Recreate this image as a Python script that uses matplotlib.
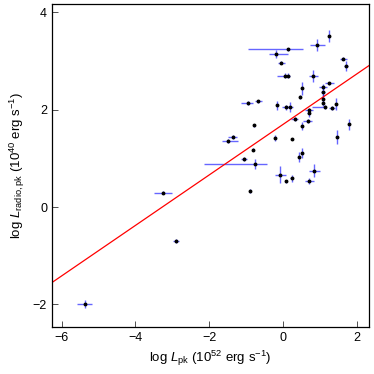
import matplotlib.pyplot as plt
import numpy as np

plt.rcParams["font.family"] = ["Liberation Sans", "DejaVu Sans"]
plt.rcParams["mathtext.fontset"] = "custom"
plt.rcParams["mathtext.rm"] = "Liberation Sans"
plt.rcParams["mathtext.it"] = "Liberation Sans:italic"

# log L_pk, log L_radio,pk and their error bars
log_lpk = [1.25, 0.93, 0.13, -0.18, -0.05, 0.04, 0.13, 0.82, 1.63, 1.71,
           0.51, 0.45, 1.25, 1.08, 1.08, 1.07, 1.07, 1.14, 1.32, 1.44,
           0.08, 0.18, 0.70, 0.69, -0.16, -0.94, -0.67, 0.31, 0.67, 0.52,
           -0.79, 1.79, -0.21, 0.24, 1.46, -1.37, -1.48, -0.81, 0.50, 0.44,
           -1.06, -0.75, -0.08, 0.07, 0.23, 0.85, 0.71, -0.89, -3.25, -2.91,
           -5.37]
log_lradio = [3.51, 3.33, 3.24, 3.14, 2.97, 2.70, 2.70, 2.70, 3.05, 2.90,
              2.44, 2.26, 2.54, 2.47, 2.37, 2.22, 2.13, 2.06, 2.04, 2.12,
              2.05, 2.05, 1.99, 1.94, 2.09, 2.13, 2.17, 1.81, 1.77, 1.67,
              1.68, 1.70, 1.42, 1.40, 1.44, 1.44, 1.36, 1.18, 1.11, 1.03,
              0.98, 0.89, 0.67, 0.53, 0.59, 0.75, 0.53, 0.33, 0.30, -0.70,
              -1.99]
xerr_lo = [0.03, 0.20, 1.08, 0.20, 0.10, 0.21, 0.05, 0.12, 0.10, 0.05,
           0.03, 0.02, 0.12, 0.10, 0.05, 0.02, 0.02, 0.35, 0.08, 0.02,
           0.10, 0.10, 0.12, 0.03, 0.02, 0.20, 0.10, 0.10, 0.12, 0.02,
           0.02, 0.02, 0.02, 0.02, 0.02, 0.12, 0.18, 0.02, 0.02, 0.02,
           0.08, 1.39, 0.15, 0.02, 0.03, 0.15, 0.12, 0.02, 0.25, 0.08,
           0.20]
xerr_hi = [0.03, 0.20, 0.42, 0.31, 0.10, 0.10, 0.05, 0.12, 0.10, 0.05,
           0.03, 0.02, 0.12, 0.10, 0.05, 0.02, 0.02, 0.03, 0.08, 0.02,
           0.10, 0.10, 0.12, 0.03, 0.02, 0.13, 0.10, 0.10, 0.12, 0.02,
           0.02, 0.02, 0.02, 0.02, 0.02, 0.12, 0.27, 0.02, 0.02, 0.02,
           0.08, 0.31, 0.15, 0.02, 0.03, 0.15, 0.12, 0.02, 0.25, 0.08,
           0.20]
yerr = [0.12, 0.13, 0.03, 0.08, 0.04, 0.05, 0.05, 0.12, 0.03, 0.10,
        0.14, 0.04, 0.03, 0.06, 0.08, 0.10, 0.05, 0.04, 0.04, 0.12,
        0.05, 0.10, 0.05, 0.08, 0.10, 0.04, 0.04, 0.04, 0.04, 0.08,
        0.03, 0.12, 0.07, 0.03, 0.15, 0.04, 0.04, 0.03, 0.10, 0.10,
        0.04, 0.10, 0.18, 0.03, 0.07, 0.13, 0.06, 0.05, 0.04, 0.04,
        0.08]

fit_slope = 0.519
fit_intercept = 1.70

fig = plt.figure(figsize=(3.74, 3.74), dpi=100)
ax = fig.add_axes([0.139, 0.126, 0.848, 0.863])

ax.errorbar(log_lpk, log_lradio, xerr=[xerr_lo, xerr_hi], yerr=yerr,
            fmt="none", ecolor="blue", elinewidth=1.0, alpha=0.6, capsize=0)
ax.plot(log_lpk, log_lradio, "o", color="black", markersize=1.8, zorder=3)

xlim = (-6.26, 2.33)
xfit = np.array(xlim)
ax.plot(xfit, fit_slope * xfit + fit_intercept, color="red", linewidth=0.9)

ax.set_xlim(*xlim)
ax.set_ylim(-2.46, 4.17)
ax.set_xticks([-6, -4, -2, 0, 2])
ax.set_yticks([-2, 0, 2, 4])
ax.tick_params(direction="in", length=4, width=0.6, labelsize=9,
               top=False, right=False, colors="#333333", labelcolor="black")
for s in ax.spines.values():
    s.set_linewidth(0.9)

ax.set_xlabel(r"log $L_{\rm pk}$ (10$^{52}$ erg s$^{-1}$)", fontsize=9.5)
ax.set_ylabel(r"log $L_{\rm radio,pk}$ (10$^{40}$ erg s$^{-1}$)", fontsize=9.5)

fig.savefig("out.png", dpi=100)
